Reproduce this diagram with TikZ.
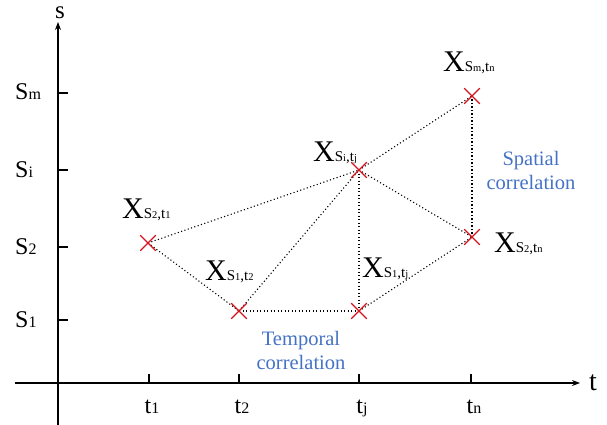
\documentclass[tikz,border=0pt]{standalone}
\usepackage{fontspec}
\setmainfont{Liberation Serif}
\newfontfamily\tnr{Liberation Serif}
\usetikzlibrary{arrows.meta,shapes.misc}
\definecolor{corrblue}{RGB}{68,114,196}
\definecolor{markred}{RGB}{210,20,30}
\newcommand\fs[2]{{\tnr\fontsize{#1}{#1}\selectfont #2}}
\newcommand\axlab[2]{\fs{24}{#1}\fs{16}{#2}}
\newcommand\tlab[2]{\fs{24}{#1}\fs{16}{#2}}
\newcommand\Xlab[2]{\fs{30}{X}\fs{15}{S}\fs{10.5}{#1}\fs{15}{,t}\fs{10.5}{#2}}
\tikzset{
  axisline/.style={line width=1.3pt,-{Stealth[length=8pt,width=6pt]}},
  tickline/.style={line width=1.2pt},
  link/.style={line width=1.1pt,dash pattern=on 1.1pt off 2.4pt},
  xmark/.style={cross out,draw=markred,line width=1.1pt,minimum size=14.5pt,inner sep=0pt},
  corr/.style={text=corrblue,font=\tnr\fontsize{20.5}{24}\selectfont,align=center,inner sep=0pt},
  lbl/.style={inner sep=0pt,anchor=base west},
}
\begin{document}
\begin{tikzpicture}[x=1pt,y=-1pt]
\useasboundingbox (0,0) rectangle (607,425);
% axes
\coordinate (ybot) at (58,425);
\coordinate (ytop) at (58,22);
\coordinate (xl) at (15,383);
\coordinate (xr) at (580,383);
\draw[axisline] (ybot) -- (ytop);
\draw[axisline] (xl) -- (xr);
\node[inner sep=0pt,anchor=base] (slab) at (60,19) {\fs{25}{s}};
\node[inner sep=0pt,anchor=base] (tlab) at (593,390) {\fs{28}{t}};
% y ticks
\foreach \y/\a/\b [count=\i] in {93/S/m,170/S/i,247/S/2,320/S/1}{
  \draw[tickline] (58,\y) -- (68,\y);
  \node[lbl] (ylab\i) at (15,\y+7) {\axlab{\a}{\b}};
}
% x ticks
\foreach \x/\b [count=\i] in {149/1,239/2,359/j,471/n}{
  \draw[tickline] (\x,383) -- (\x,374);
  \node[inner sep=0pt,anchor=base] (xlab\i) at (\x+3,413) {\tlab{t}{\b}};
}
% points
\coordinate (p21) at (148,243);
\coordinate (p12) at (239,311);
\coordinate (p1j) at (359,311);
\coordinate (pij) at (359,170);
\coordinate (p2n) at (472,237);
\coordinate (pmn) at (472,96);
% links
\draw[link] (p21) -- (pij);
\draw[link] (p21) -- (p12);
\draw[link] (p12) -- (p1j);
\draw[link] (p12) -- (pij);
\draw[link] (pij) -- (p1j);
\draw[link] (pij) -- (pmn);
\draw[link] (pij) -- (p2n);
\draw[link] (p1j) -- (p2n);
\draw[link] (p2n) -- (pmn);
% marks
\foreach \p in {p21,p12,p1j,pij,p2n,pmn}{
  \node[xmark] (m\p) at (\p) {};
}
% labels
\node[lbl] (l21) at (122,218) {\Xlab{2}{1}};
\node[lbl] (l12) at (205,280) {\Xlab{1}{2}};
\node[lbl] (lij) at (313,161) {\Xlab{i}{j}};
\node[lbl] (l1j) at (362,277) {\Xlab{1}{j}};
\node[lbl] (l2n) at (494,252) {\Xlab{2}{n}};
\node[lbl] (lmn) at (443,72) {\Xlab{m}{n}};
\node[corr] (spat) at (531,170) {Spatial\\correlation};
\node[corr] (temp) at (301,350) {Temporal\\correlation};
\end{tikzpicture}
\end{document}
